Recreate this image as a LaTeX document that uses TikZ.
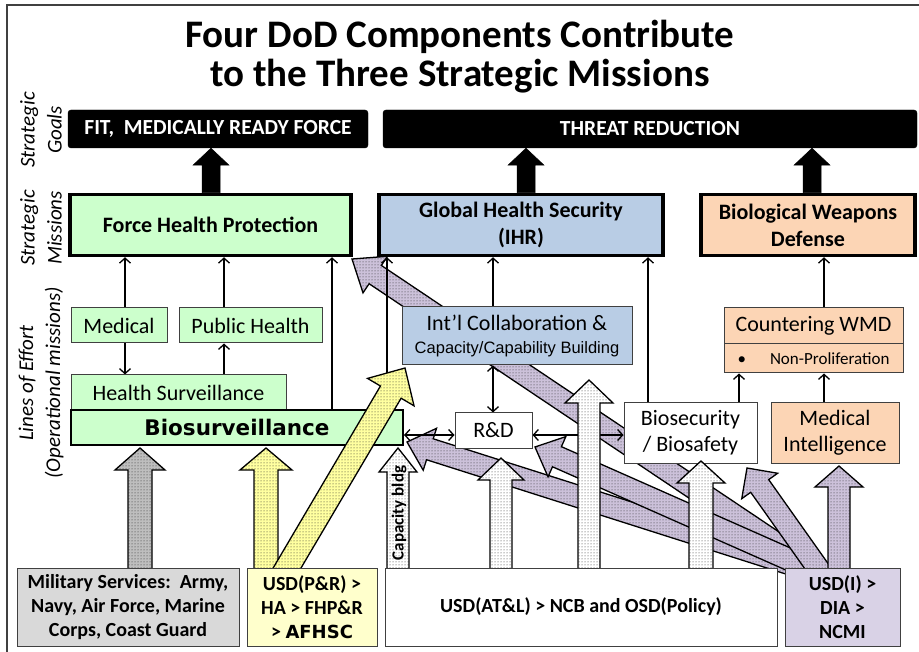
\documentclass[tikz,border=0pt]{standalone}
\usepackage{fontspec}
\setmainfont{Carlito}
\newfontfamily\arialf{Liberation Sans}
\newfontfamily\blackf{DejaVu Sans}
\usetikzlibrary{arrows.meta,calc,patterns}
\pgfdeclarelayer{l0}
\pgfdeclarelayer{l1}
\pgfdeclarelayer{l2}
\pgfdeclarelayer{l4}
\pgfdeclarelayer{l5}
\pgfsetlayers{l0,l1,l2,main,l4,l5}
\definecolor{cgreen}{RGB}{204,255,204}
\definecolor{cblue}{RGB}{185,205,229}
\definecolor{cpeach}{RGB}{252,213,181}
\definecolor{cgray}{RGB}{217,217,217}
\definecolor{cyellow}{RGB}{255,255,204}
\definecolor{cpurple}{RGB}{217,210,230}
\definecolor{apurple}{RGB}{204,193,218}
\definecolor{ayellow}{RGB}{255,255,160}
\definecolor{agray}{RGB}{190,190,190}
\definecolor{edge}{RGB}{64,64,64}
\newcommand\fsz[2]{\fontsize{#1}{#2}\selectfont}
% #1 style, #2 start, #3 tip, #4 body half width, #5 head half width, #6 head length
\newcommand\blockarrow[6]{%
  \path ($(#3)!#6!(#2)$) coordinate (bah);
  \path[#1] ($(#2)!#4!90:(#3)$) -- ($(bah)!#4!90:(#3)$) -- ($(bah)!#5!90:(#3)$) -- (#3)
    -- ($(bah)!#5!-90:(#3)$) -- ($(bah)!#4!-90:(#3)$) -- ($(#2)!#4!-90:(#3)$) -- cycle;}
\tikzset{
  blk/.style={fill=black, draw=black, rounded corners=3pt, text=white, inner sep=0pt, font=\bfseries\fsz{21.5pt}{25pt}},
  mission/.style={draw=black, line width=3.5pt, align=center, inner sep=0pt, font=\bfseries\fsz{22pt}{27pt}},
  loe/.style={draw=edge, line width=1pt, align=center, inner sep=0pt, font=\fsz{22pt}{26pt}},
  src/.style={draw=edge, line width=1pt, align=center, inner sep=0pt, font=\bfseries\fsz{20pt}{24pt}},
  side/.style={rotate=90, align=center, font=\itshape\fsz{21pt}{27pt}},
  conn/.style={line width=1.3pt, -{Straight Barb[length=5pt,width=11pt]}},
  conn2/.style={line width=1.3pt, {Straight Barb[length=5pt,width=11pt]}-{Straight Barb[length=5pt,width=11pt]}},
  dotarrow/.style={draw=black, line width=1.3pt, line join=miter, preaction={fill=#1}, pattern=dots, pattern color=black!85},
  solidarrow/.style={fill=black, draw=black, line width=0.5pt}
}
\begin{document}
\begin{tikzpicture}[x=1pt,y=-1pt]
\useasboundingbox (0,0) rectangle (919,652);
\begin{pgfonlayer}{l0}
\fill[white] (0,0) rectangle (919,652);
\draw[line width=1.2pt, black!75] (7,5) rectangle (945,675);
\end{pgfonlayer}
% title
\node[font=\bfseries\fsz{39pt}{44pt}, anchor=base] (t1) at (460,48) {Four DoD Components Contribute};
\node[font=\bfseries\fsz{39pt}{44pt}, anchor=base] (t2) at (460,87) {to the Three Strategic Missions};
% side labels
\node[side] (sg) at (41,130) {Strategic\\Goals};
\node[side] (sm) at (41,228) {Strategic\\Missions};
\node[side] (sl) at (41,383) {Lines of Effort\\(Operational missions)};
% goals
\node[blk, minimum width=300pt, minimum height=38pt] (fit) at (218,129) {FIT,\ \ MEDICALLY READY FORCE};
\node[blk, minimum width=534pt, minimum height=38pt] (threat) at (650,129) {THREAT REDUCTION};
% missions
\node[mission, fill=cgreen, minimum width=281pt, minimum height=61pt] (fhp) at (210.5,225) {Force Health Protection};
\node[mission, fill=cblue, minimum width=284pt, minimum height=61pt] (ghs) at (521,225) {Global Health Security\\(IHR)};
\node[mission, fill=cpeach, minimum width=214pt, minimum height=61pt] (bwd) at (808,225) {Biological Weapons\\Defense};
% lines of effort
\node[loe, fill=cgreen, minimum width=96pt, minimum height=35pt] (medical) at (119,325.5) {Medical};
\node[loe, fill=cgreen, minimum width=143pt, minimum height=35pt] (ph) at (250.5,325.5) {Public Health};
\node[loe, fill=cblue, minimum width=230pt, minimum height=58pt] (intl) at (517,336) {Int’l Collaboration \&\\[-3pt]{\arialf\fsz{16.5pt}{20pt}Capacity/Capability Building}};
\node[loe, fill=cpeach, minimum width=179pt, minimum height=36pt] (cwmd) at (813.5,326) {Countering WMD};
\node[loe, fill=cpeach, minimum width=179pt, minimum height=29pt, font=\fsz{17pt}{20pt}] (nonp) at (813.5,358.5) {\textbullet\hspace{24pt}Non-Proliferation};
\node[loe, fill=cgreen, minimum width=215pt, minimum height=35pt] (hs) at (178.5,392.5) {Health Surveillance};
\node[loe, fill=cgreen, draw=black, line width=2pt, minimum width=332pt, minimum height=35pt, font=\blackf\bfseries\fsz{21.5pt}{24pt}] (bios) at (237,427.5) {Biosurveillance};
\node[loe, fill=white, minimum width=77pt, minimum height=35pt] (rd) at (493.5,430.5) {R\&D};
\node[loe, fill=white, minimum width=133pt, minimum height=60pt] (biosec) at (690.5,433) {Biosecurity\\/ Biosafety};
\node[loe, fill=cpeach, minimum width=128pt, minimum height=60pt] (medint) at (835,433) {Medical\\Intelligence};
% column coordinates
\coordinate (c1) at (125,0);
\coordinate (c2) at (224,0);
\coordinate (c3) at (332,0);
\coordinate (c4) at (387,380);
\coordinate (c5) at (493,0);
\coordinate (c7) at (648,0);
\coordinate (c8) at (739,0);
\coordinate (c9) at (824,0);
\coordinate (r1) at (0,435);
\coordinate (k1) at (211,0);
\coordinate (k2) at (526,0);
\coordinate (k3) at (812,0);
\coordinate (k1s) at (fhp.north -| k1);
\coordinate (k1t) at (fit.south -| k1);
\coordinate (k2s) at (ghs.north -| k2);
\coordinate (k2t) at (threat.south -| k2);
\coordinate (k3s) at (bwd.north -| k3);
\coordinate (k3t) at (threat.south -| k3);
% block arrow end points
\coordinate (gS) at (140,580);   \coordinate (gT) at (140,448);
\coordinate (yvS) at (266,580);  \coordinate (yvT) at (266,448);
\coordinate (ydS) at (280,580);  \coordinate (ydT) at (405,368);
\coordinate (cbS) at (398,580);  \coordinate (cbT) at (398,448);
\coordinate (w1S) at (501,580);  \coordinate (w1T) at (501,458);
\coordinate (w2S) at (589,580);  \coordinate (w2T) at (589,380);
\coordinate (w3S) at (701,580);  \coordinate (w3T) at (701,461);
\coordinate (pS) at (822,574);
\coordinate (pA) at (352,259);
\coordinate (pB) at (407,442);
\coordinate (pC) at (535,447);
\coordinate (pD) at (747,468);
\coordinate (peS) at (839,580);  \coordinate (peT) at (839,466);
% purple arrows (back)
\begin{pgfonlayer}{l1}
\blockarrow{dotarrow=apurple}{pS}{pA}{11pt}{22pt}{28pt}
\blockarrow{dotarrow=apurple}{pS}{pB}{11pt}{22pt}{24pt}
\blockarrow{dotarrow=apurple}{pS}{pC}{11pt}{22pt}{24pt}
\blockarrow{dotarrow=apurple}{pS}{pD}{11pt}{22pt}{22pt}
\blockarrow{dotarrow=apurple}{peS}{peT}{11pt}{24pt}{21pt}
\end{pgfonlayer}
% thin connectors
\begin{pgfonlayer}{l2}
\draw[conn] (medical.north -| c1) -- (fhp.south -| c1);
\draw[conn] (medical.south -| c1) -- (hs.north -| c1);
\draw[conn] (hs.north -| c2) -- (ph.south -| c2);
\draw[conn] (ph.north -| c2) -- (fhp.south -| c2);
\draw[conn] (bios.north -| c3) -- (fhp.south -| c3);
\draw[conn] (c4) -- (ghs.south -| c4);
\draw[conn] (intl.north -| c5) -- (ghs.south -| c5);
\draw[conn2] (intl.south -| c5) -- (rd.north -| c5);
\draw[conn2] (bios.east |- r1) -- (rd.west |- r1);
\draw[conn2] (rd.east |- r1) -- (biosec.west |- r1);
\draw[conn] (biosec.north -| c7) -- (ghs.south -| c7);
\draw[conn] (biosec.north -| c8) -- (nonp.south -| c8);
\draw[conn] (medint.north -| c9) -- (nonp.south -| c9);
\draw[conn] (cwmd.north -| c9) -- (bwd.south -| c9);
\end{pgfonlayer}
% front block arrows
\begin{pgfonlayer}{l4}
\blockarrow{solidarrow}{k1s}{k1t}{9pt}{18pt}{17pt}
\blockarrow{solidarrow}{k2s}{k2t}{9pt}{18pt}{17pt}
\blockarrow{solidarrow}{k3s}{k3t}{9pt}{18pt}{17pt}
\blockarrow{dotarrow=agray}{gS}{gT}{12pt}{25pt}{22pt}
\blockarrow{dotarrow=ayellow}{yvS}{yvT}{12pt}{26pt}{22pt}
\blockarrow{dotarrow=ayellow}{ydS}{ydT}{12pt}{27pt}{28pt}
\blockarrow{dotarrow=white}{cbS}{cbT}{11pt}{19pt}{24pt}
\blockarrow{dotarrow=white}{w1S}{w1T}{11pt}{23pt}{22pt}
\blockarrow{dotarrow=white}{w2S}{w2T}{11pt}{24pt}{23pt}
\blockarrow{dotarrow=white}{w3S}{w3T}{12pt}{24pt}{22pt}
\node[rotate=90, font=\bfseries\fsz{17pt}{20pt}, inner sep=0pt] (capl) at (399,513) {Capacity bldg};
\end{pgfonlayer}
% sources
\begin{pgfonlayer}{l5}
\node[src, fill=cgray, minimum width=222pt, minimum height=78pt] (mil) at (128,607) {Military Services:\ \ Army,\\Navy, Air Force, Marine\\Corps, Coast Guard};
\node[src, fill=cyellow, minimum width=130pt, minimum height=78pt] (pr) at (312,607) {USD(P\&R) >\\HA > FHP\&R\\> {\blackf\bfseries\fsz{18pt}{24pt}AFHSC}};
\node[src, fill=white, minimum width=392pt, minimum height=78pt] (atl) at (581,607) {USD(AT\&L) > NCB and OSD(Policy)};
\node[src, fill=cpurple, minimum width=115pt, minimum height=78pt] (usdi) at (842.5,607) {USD(I) >\\DIA >\\NCMI};
\end{pgfonlayer}
\end{tikzpicture}
\end{document}
